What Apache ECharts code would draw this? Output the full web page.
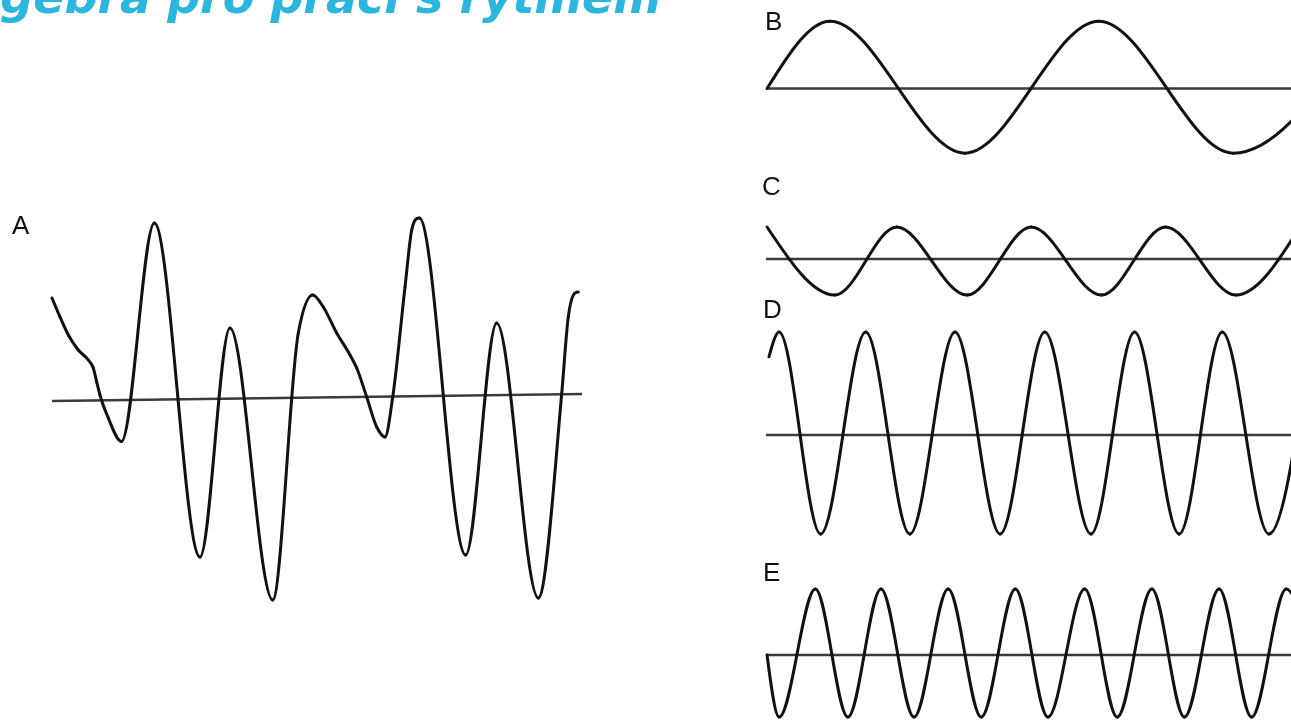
<!DOCTYPE html>
<html>
<head>
<meta charset="utf-8">
<title>Algebra pro práci s rytmem</title>
<script src="https://cdn.jsdelivr.net/npm/echarts@6/dist/echarts.min.js"></script>
<style>
  html, body { margin: 0; padding: 0; background: #ffffff; }
  #chart { width: 1291px; height: 720px; }
</style>
</head>
<body>
<div id="chart"></div>
<script>
// Texts
const titleText = 'Algebra pro práci s rytmem';
const panelLabels = ['A', 'B', 'C', 'D', 'E'];

// Waveform A: composite signal, [time, amplitude] at its extremes and bends
const waveA = [
  [0, 1.02], [1.52, 0.83], [3.09, 0.65], [4.98, 0.50], [6.88, 0.40], [7.82, 0.32],
  [8.47, 0.18], [9.09, 0.05], [10.66, -0.18], [13.16, -0.415], [19.38, 1.77],
  [28.03, -1.57], [33.71, 0.72], [41.8, -2.00], [46.65, 0.67], [49.38, 1.05],
  [51.38, 0.93], [53.92, 0.67], [56.44, 0.45], [57.71, 0.32], [59.6, 0.03],
  [61.5, -0.27], [63.07, -0.37], [64.53, 0.03], [66.86, 1.13], [68.13, 1.70],
  [69.56, 1.82], [78.35, -1.55], [84.22, 0.77], [92.1, -1.98], [96.53, 0.06],
  [97.78, 0.83], [99.68, 1.08]
];
const baseA = [[0, -0.01], [100.4, 0.06]];

// Components B–E: fundamental and its 2nd, 3rd and 4th harmonics (extremes)
const waveB = [
  [0.2, 0], [12.2, 1.02], [37.9, -0.98], [63.4, 1.02], [89.0, -0.98], [114.5, 1.02]
];
const waveC = [
  [0.2, 0.94], [13.1, -1.06], [24.9, 0.94], [38.3, -1.06], [50.5, 0.94],
  [63.9, -1.06], [76.1, 0.94], [89.5, -1.06], [101.7, 0.94]
];
const waveD = [
  [0.57, 0.79], [2.5, 1.04], [10.4, -1.0], [19.0, 1.04], [27.4, -1.0], [36.0, 1.04],
  [44.6, -1.0], [53.1, 1.04], [61.9, -1.0], [70.2, 1.04], [78.7, -1.0], [86.9, 1.04],
  [95.8, -1.0], [103.8, 1.04]
];
const waveE = [
  [0.2, 0], [2.5, -0.97], [9.4, 1.03], [15.6, -0.97], [21.9, 1.03], [28.2, -0.97],
  [34.7, 1.03], [41.0, -0.97], [47.5, 1.03], [53.7, -0.97], [60.7, 1.03], [66.9, -0.97],
  [73.5, 1.03], [79.7, -0.97], [86.3, 1.03], [92.5, -0.97], [99.1, 1.03], [105.5, -0.97]
];
const baseRight = [[0, 0], [100, 0]];

const waves = [waveA, waveB, waveC, waveD, waveE];
const baselines = [baseA, baseRight, baseRight, baseRight, baseRight];

// Panel layout (pixels) and y-range per panel
const panels = [
  { left: 52,  width: 528, top: 180,   height: 440,    yMin: -2.2,   yMax: 2.2 },
  { left: 766, width: 525, top: 2.7,   height: 171.6,  yMin: -1.3,   yMax: 1.3 },
  { left: 766, width: 525, top: 214.8, height: 88.4,   yMin: -1.3,   yMax: 1.3 },
  { left: 766, width: 525, top: 306.3, height: 257.4,  yMin: -1.3,   yMax: 1.3 },
  { left: 766, width: 525, top: 575,   height: 144.96, yMin: -1.015, yMax: 1.25 }
];
const labelPos = [[12, 214], [765, 10], [762, 175], [763, 298], [763, 561]];

// Monotone cubic segments through pixel points: flat at every extreme,
// three-point slope elsewhere, limited so a segment never overshoots.
function monotoneSegments(pts) {
  const n = pts.length, h = [], s = [], m = [];
  for (let i = 0; i < n - 1; i++) {
    h[i] = pts[i + 1][0] - pts[i][0];
    s[i] = (pts[i + 1][1] - pts[i][1]) / h[i];
  }
  for (let i = 1; i < n - 1; i++) {
    const s0 = s[i - 1], s1 = s[i];
    if (s0 * s1 <= 0) { m[i] = 0; continue; }
    const p = (s0 * h[i] + s1 * h[i - 1]) / (h[i - 1] + h[i]);
    m[i] = Math.sign(s0) * Math.min(3 * Math.abs(s0), 3 * Math.abs(s1), Math.abs(p));
  }
  m[0] = n > 2 ? (3 * s[0] - m[1]) / 2 : s[0];
  m[n - 1] = n > 2 ? (3 * s[n - 2] - m[n - 2]) / 2 : s[n - 2];
  const segs = [];
  for (let i = 0; i < n - 1; i++) {
    const d = h[i] / 3;
    segs.push({
      x1: pts[i][0], y1: pts[i][1],
      cpx1: pts[i][0] + d, cpy1: pts[i][1] + m[i] * d,
      cpx2: pts[i + 1][0] - d, cpy2: pts[i + 1][1] - m[i + 1] * d,
      x2: pts[i + 1][0], y2: pts[i + 1][1]
    });
  }
  return segs;
}

const chart = echarts.init(document.getElementById('chart'), null, { renderer: 'canvas' });

const grid = panels.map(p => ({ left: p.left, top: p.top, width: p.width, height: p.height }));
const xAxis = panels.map((p, i) => ({ type: 'value', gridIndex: i, min: 0, max: 100, show: false }));
const yAxis = panels.map((p, i) => ({ type: 'value', gridIndex: i, min: p.yMin, max: p.yMax, show: false }));

const series = [];
waves.forEach((w, i) => {
  series.push({
    type: 'line', xAxisIndex: i, yAxisIndex: i, data: baselines[i],
    showSymbol: false, clip: false, silent: true, z: 1,
    lineStyle: { color: '#3a3a3a', width: 2.5 }
  });
  series.push({
    type: 'custom', xAxisIndex: i, yAxisIndex: i, data: w, silent: true, z: 2,
    encode: { x: 0, y: 1 },
    renderItem: function (params, api) {
      const k = params.dataIndex;
      if (k >= w.length - 1) return null;
      const seg = monotoneSegments(w.map(p => api.coord(p)))[k];
      return {
        type: 'bezierCurve',
        shape: seg,
        style: { fill: null, stroke: '#111111', lineWidth: 3, lineCap: 'round' }
      };
    }
  });
});

const graphic = [
  {
    type: 'text', left: -51, top: -22,
    style: { text: titleText, fill: '#2ab6df', font: 'italic bold 46px "DejaVu Sans"' }
  }
].concat(panelLabels.map((t, i) => ({
  type: 'text', x: labelPos[i][0], y: labelPos[i][1],
  style: { text: t, fill: '#111111', font: '26px "Liberation Sans"', verticalAlign: 'top' }
})));

chart.setOption({
  animation: false,
  backgroundColor: '#ffffff',
  grid, xAxis, yAxis, series, graphic
});
</script>
</body>
</html>
